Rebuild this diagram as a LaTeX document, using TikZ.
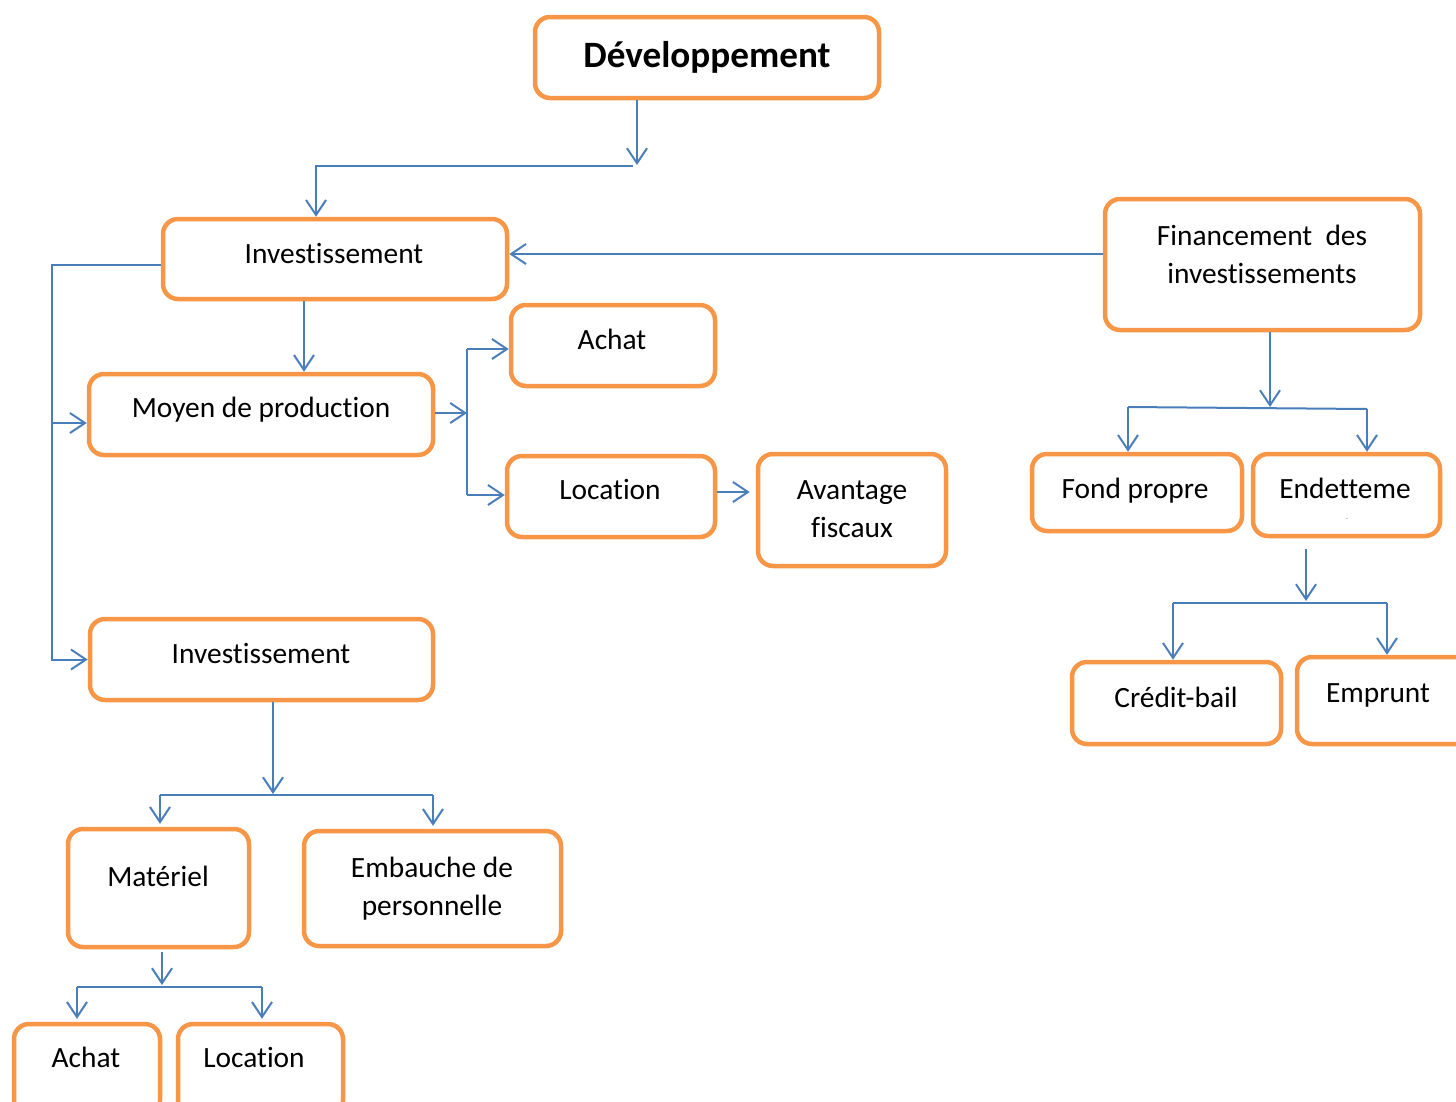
\documentclass[tikz,border=0pt]{standalone}
\usepackage{fontspec}
\setmainfont{Carlito}[Ligatures=NoCommon]
\usetikzlibrary{arrows.meta}
\definecolor{boxorange}{HTML}{F79646}
\definecolor{linkblue}{HTML}{4A7EBB}
\tikzset{
  box/.style={draw=boxorange, line width=4.5pt, rounded corners=15pt, fill=white,
    rectangle, inner sep=0pt, minimum width=#1},
  lbl/.style={anchor=base, inner sep=0pt, align=center,
    font=\fontsize{29.4}{38.5}\selectfont},
  link/.style={draw=linkblue, line width=2pt},
  arr/.style={link, -{Straight Barb[length=15pt,width=20pt,line width=2pt]}},
}
\begin{document}
\begin{tikzpicture}[x=1pt, y=-1pt]
\useasboundingbox (0,0) rectangle (1456,1101);
\clip (0,0) rectangle (1456,1101);

% boxes
\node[box=344pt, minimum height=81pt]  (dev)  at (707,57.5)   {};
\node[box=344pt, minimum height=80pt]  (inv1) at (335,259)    {};
\node[box=344pt, minimum height=81pt]  (moy)  at (261,414.5)  {};
\node[box=204pt, minimum height=81pt]  (achA) at (613,345.5)  {};
\node[box=208pt, minimum height=81pt]  (locA) at (611,496.5)  {};
\node[box=188pt, minimum height=112pt] (avan) at (852,510)    {};
\node[box=315pt, minimum height=131pt] (fin)  at (1262.5,264.5) {};
\node[box=210pt, minimum height=77pt]  (fond) at (1137,492.5) {};
\node[box=187pt, minimum height=82pt]  (endt) at (1346.5,495) {};
\node[box=209pt, minimum height=82pt]  (cred) at (1176.5,703) {};
\node[box=178pt, minimum height=87pt]  (empr) at (1386,700.5) {};
\node[box=343pt, minimum height=81pt]  (inv2) at (261.5,659.5) {};
\node[box=181pt, minimum height=118pt] (mat)  at (158.5,888)  {};
\node[box=257pt, minimum height=115pt] (emb)  at (432.5,888.5) {};
\node[box=146pt, minimum height=91pt]  (achB) at (87,1069.5)  {};
\node[box=165pt, minimum height=91pt]  (locB) at (260.5,1069.5) {};

% labels (base anchor: baseline of the last line)
\node[lbl, font=\fontsize{37.2}{40}\selectfont\bfseries] (tdev) at (707,67) {Développement};
\node[lbl] (tinv1) at (334,263) {Investissement};
\node[lbl] (tmoy)  at (261,417) {Moyen de production};
\node[lbl] (tachA) at (612,349) {Achat};
\node[lbl] (tlocA) at (610,499) {Location};
\node[lbl] (tavan) at (852,537.5) {Avantage\\fiscaux};
\node[lbl] (tfin)  at (1262,283.5) {Financement\ \ des\\investissements};
\node[lbl] (tfond) at (1135,498) {Fond propre};
\node[lbl] (tendt) at (1345,498) {Endetteme};
\node[anchor=base, inner sep=0pt, font=\fontsize{6}{6}\selectfont] (tdot) at (1347,519) {.};
\node[lbl] (tcred) at (1176,707) {Crédit-bail};
\node[lbl] (tempr) at (1378,702) {Emprunt};
\node[lbl] (tinv2) at (261,663) {Investissement};
\node[lbl] (tmat)  at (158,886) {Matériel};
\node[lbl] (temb)  at (432,915.5) {Embauche de\\personnelle};
\node[lbl] (tachB) at (86,1067) {Achat};
\node[lbl] (tlocB) at (254,1067) {Location};

% junction points
\coordinate (j1)   at (637,165);
\coordinate (j1a)  at (633,166);
\coordinate (j1L)  at (316,166);
\coordinate (hf)   at (0,254);
\coordinate (busL) at (52,265);
\coordinate (bl2)  at (52,423);
\coordinate (c5)   at (304,0);
\coordinate (busM) at (467,413);
\coordinate (bm1)  at (467,349);
\coordinate (bm2)  at (467,495);
\coordinate (hl)   at (0,492);
\coordinate (jf)   at (1270,407);
\coordinate (jfa)  at (1128,407);
\coordinate (jfb)  at (1367,409);
\coordinate (je)   at (1306,601);
\coordinate (jea)  at (1173,603);
\coordinate (jeb)  at (1387,603);
\coordinate (ji)   at (273,794);
\coordinate (jia)  at (160,795);
\coordinate (jib)  at (433,795);
\coordinate (jm)   at (162,985);
\coordinate (jma)  at (77,987);
\coordinate (jmb)  at (262,987);

% Développement -> Investissement
\draw[arr] (j1 |- dev.south) -- (j1);
\draw[arr] (j1a) -- (j1L) -- (j1L |- inv1.north);

% Financement -> Investissement
\draw[arr] (fin.west |- hf) -- (inv1.east |- hf);

% left bus from Investissement
\draw[arr] (inv1.west |- busL) -- (busL) -- (busL |- inv2.west) -- (inv2.west);
\draw[arr] (bl2) -- (bl2 -| moy.west);

% Investissement -> Moyen de production
\draw[arr] (c5 |- inv1.south) -- (c5 |- moy.north);

% Moyen de production -> Achat / Location
\draw[arr] (busM -| moy.east) -- (busM);
\draw[link] (bm1) -- (bm2);
\draw[arr] (bm1) -- (bm1 -| achA.west);
\draw[arr] (bm2) -- (bm2 -| locA.west);

% Location -> Avantage fiscaux
\draw[arr, shorten >=6pt] (locA.east |- hl) -- (avan.west |- hl);

% Financement -> Fond propre / Endettement
\draw[arr] (jf |- fin.south) -- (jf);
\draw[link] (jfa) -- (jfb);
\draw[arr] (jfa) -- (jfa |- fond.north);
\draw[arr] (jfb) -- (jfb |- endt.north);

% Endettement -> Crédit-bail / Emprunt
\draw[arr, shorten <=11pt] (je |- endt.south) -- (je);
\draw[link] (jea) -- (jeb);
\draw[arr] (jea) -- (jea |- cred.north);
\draw[arr] (jeb) -- (jeb |- empr.north);

% Investissement -> Matériel / Embauche
\draw[arr] (ji |- inv2.south) -- (ji);
\draw[link] (jia) -- (jib);
\draw[arr, shorten >=3pt] (jia) -- (jia |- mat.north);
\draw[arr, shorten >=3pt] (jib) -- (jib |- emb.north);

% Matériel -> Achat / Location
\draw[arr, shorten <=3pt] (jm |- mat.south) -- (jm);
\draw[link] (jma) -- (jmb);
\draw[arr, shorten >=3pt] (jma) -- (jma |- achB.north);
\draw[arr, shorten >=3pt] (jmb) -- (jmb |- locB.north);
\end{tikzpicture}
\end{document}
